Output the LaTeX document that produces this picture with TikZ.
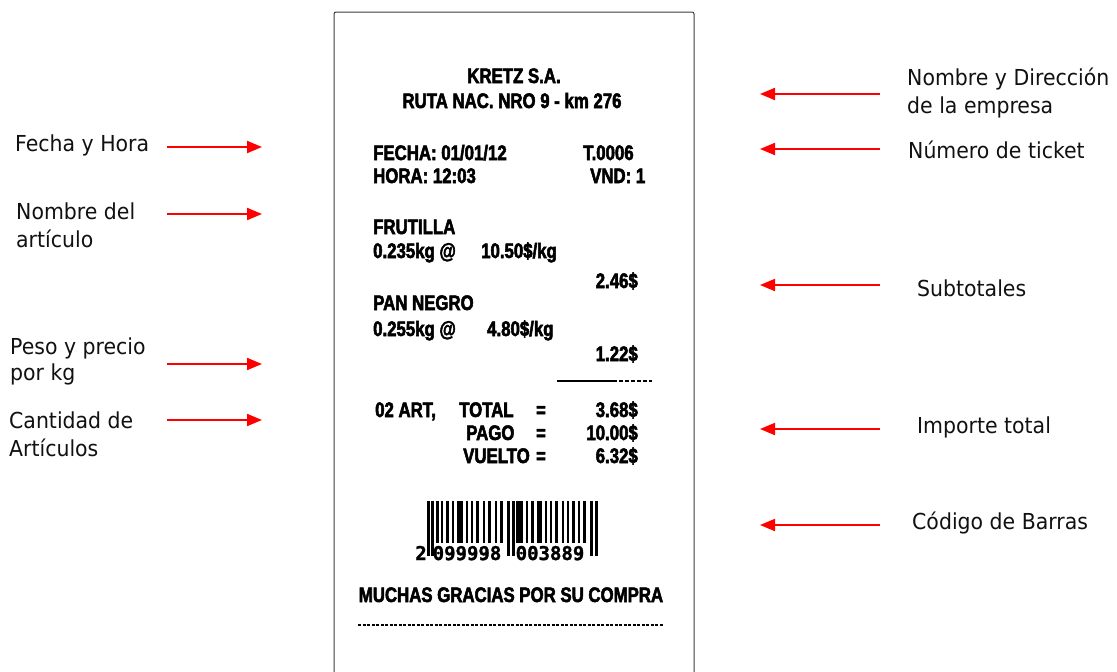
\documentclass[tikz,border=0pt]{standalone}
\usepackage{fontspec}
\usetikzlibrary{arrows.meta}
\newfontfamily\labfont[FakeStretch=0.93]{DejaVu Sans}
\newfontfamily\rcfont[FakeStretch=0.80, BoldFeatures={FakeBold=2.5}]{Liberation Sans}
\newfontfamily\bcfont[BoldFeatures={FakeBold=1.5}]{DejaVu Sans Mono}
\definecolor{arrowred}{RGB}{255,0,0}
\definecolor{edgegray}{RGB}{60,60,60}
\definecolor{labtext}{RGB}{17,17,17}
\tikzset{
  lab/.style={font=\labfont\fontsize{22}{28}\selectfont, inner sep=0pt, anchor=base west, text=labtext},
  rc/.style={font=\rcfont\bfseries\fontsize{21}{21}\selectfont, inner sep=0pt, text=black},
  rcl/.style={rc, anchor=base west},
  rcr/.style={rc, anchor=base east},
  rcc/.style={rc, anchor=base},
  bcd/.style={font=\bcfont\bfseries\fontsize{19}{19}\selectfont, inner sep=0pt, anchor=base},
  pointer/.style={draw=arrowred, line width=2pt, -{Triangle[length=15pt,width=12pt]}},
  bar/.style={fill=black, draw=none},
}
\begin{document}
\begin{tikzpicture}[x=1pt,y=-1pt]
\useasboundingbox[fill=white] (0,0) rectangle (1117,672);
% receipt outline
\draw[edgegray, line width=1pt, rounded corners=2pt] (334,680) -- (334,12) -- (694,12) -- (694,680);
% receipt text
\node[rcc] (kretz) at (514,83) {KRETZ S.A.};
\node[rcc] (ruta) at (512,108) {RUTA NAC. NRO 9 - km 276};
\node[rcl] (fecha) at (373,160) {FECHA: 01/01/12};
\node[rcl] (ticket) at (583,160) {T.0006};
\node[rcl] (hora) at (373,183) {HORA: 12:03};
\node[rcl] (vnd) at (590,183) {VND: 1};
\node[rcl] (frut) at (373,234) {FRUTILLA};
\node[rcl] (frutp) at (373,258) {0.235kg @};
\node[rcl] (frutk) at (481,258) {10.50\$/kg};
\node[rcr] (sub1) at (638,288) {2.46\$};
\node[rcl] (pan) at (373,310) {PAN NEGRO};
\node[rcl] (panp) at (373,336) {0.255kg @};
\node[rcl] (pank) at (487,336) {4.80\$/kg};
\node[rcr] (sub2) at (638,361) {1.22\$};
\coordinate (sepa) at (557,381);
\coordinate (sepb) at (613,381);
\coordinate (sepc) at (652,381);
\draw[line width=1.4pt] (sepa) -- (sepb);
\draw[line width=1.4pt, dash pattern=on 4pt off 2pt] (sepb) -- (sepc);
\node[rcl] (art) at (375,417) {02 ART,};
\node[rcl] (total) at (459,417) {TOTAL};
\node[rcc] (eq1) at (541,417) {=};
\node[rcr] (totv) at (638,417) {3.68\$};
\node[rcl] (pago) at (466,440) {PAGO};
\node[rcc] (eq2) at (541,440) {=};
\node[rcr] (pagv) at (638,440) {10.00\$};
\node[rcl] (vuelto) at (463,463) {VUELTO};
\node[rcc] (eq3) at (541,463) {=};
\node[rcr] (vuev) at (638,463) {6.32\$};
% barcode
\foreach \x/\w in {427/2.5,431/2.5,507/2.5,512/2.5,590/2.5,595/2.5}
  \fill[bar] (\x,501) rectangle ++(\w,55);
\foreach \x/\w in {436/3,441/2,446/3,452/2,457/6,466/2,471/2,476/3,483/2,488/3,495/2,500/3,
                   516/7,526/2,531/3,537/5,545/2,550/2,555/3,562/2,567/2,572/3,578/2,583/3}
  \fill[bar] (\x,501) rectangle ++(\w,42);
\node[bcd] (bc1) at (421,560) {2};
\node[bcd] (bc2) at (467,560) {099998};
\node[bcd] (bc3) at (550,560) {003889};
\node[rcc] (gracias) at (511,602) {MUCHAS GRACIAS POR SU COMPRA};
\coordinate (dota) at (358,625);
\coordinate (dotb) at (664,625);
\draw[line width=1.5pt, dash pattern=on 3pt off 1.5pt] (dota) -- (dotb);
% left labels
\node[lab] (l1) at (15,151) {Fecha y Hora};
\node[lab] (l2a) at (16,219) {Nombre del};
\node[lab] (l2b) at (16,247) {art\'iculo};
\node[lab] (l3a) at (10,354) {Peso y precio};
\node[lab] (l3b) at (10,380) {por kg};
\node[lab] (l4a) at (9,428) {Cantidad de};
\node[lab] (l4b) at (9,456) {Art\'iculos};
% right labels
\node[lab] (r1a) at (907,85) {Nombre y Direcci\'on};
\node[lab] (r1b) at (907,113) {de la empresa};
\node[lab] (r2) at (908,158) {N\'umero de ticket};
\node[lab] (r3) at (917,296) {Subtotales};
\node[lab] (r4) at (917,433) {Importe total};
\node[lab] (r5) at (912,529) {C\'odigo de Barras};
% arrow end points
\coordinate (a1s) at (167,147); \coordinate (a1e) at (262,147);
\coordinate (a2s) at (167,214); \coordinate (a2e) at (262,214);
\coordinate (a3s) at (167,364); \coordinate (a3e) at (262,364);
\coordinate (a4s) at (167,420); \coordinate (a4e) at (262,420);
\coordinate (b1s) at (880,94);  \coordinate (b1e) at (760,94);
\coordinate (b2s) at (880,149); \coordinate (b2e) at (760,149);
\coordinate (b3s) at (880,285); \coordinate (b3e) at (760,285);
\coordinate (b4s) at (880,429); \coordinate (b4e) at (760,429);
\coordinate (b5s) at (880,525); \coordinate (b5e) at (760,525);
\draw[pointer] (a1s) -- (a1e);
\draw[pointer] (a2s) -- (a2e);
\draw[pointer] (a3s) -- (a3e);
\draw[pointer] (a4s) -- (a4e);
\draw[pointer] (b1s) -- (b1e);
\draw[pointer] (b2s) -- (b2e);
\draw[pointer] (b3s) -- (b3e);
\draw[pointer] (b4s) -- (b4e);
\draw[pointer] (b5s) -- (b5e);
\end{tikzpicture}
\end{document}
